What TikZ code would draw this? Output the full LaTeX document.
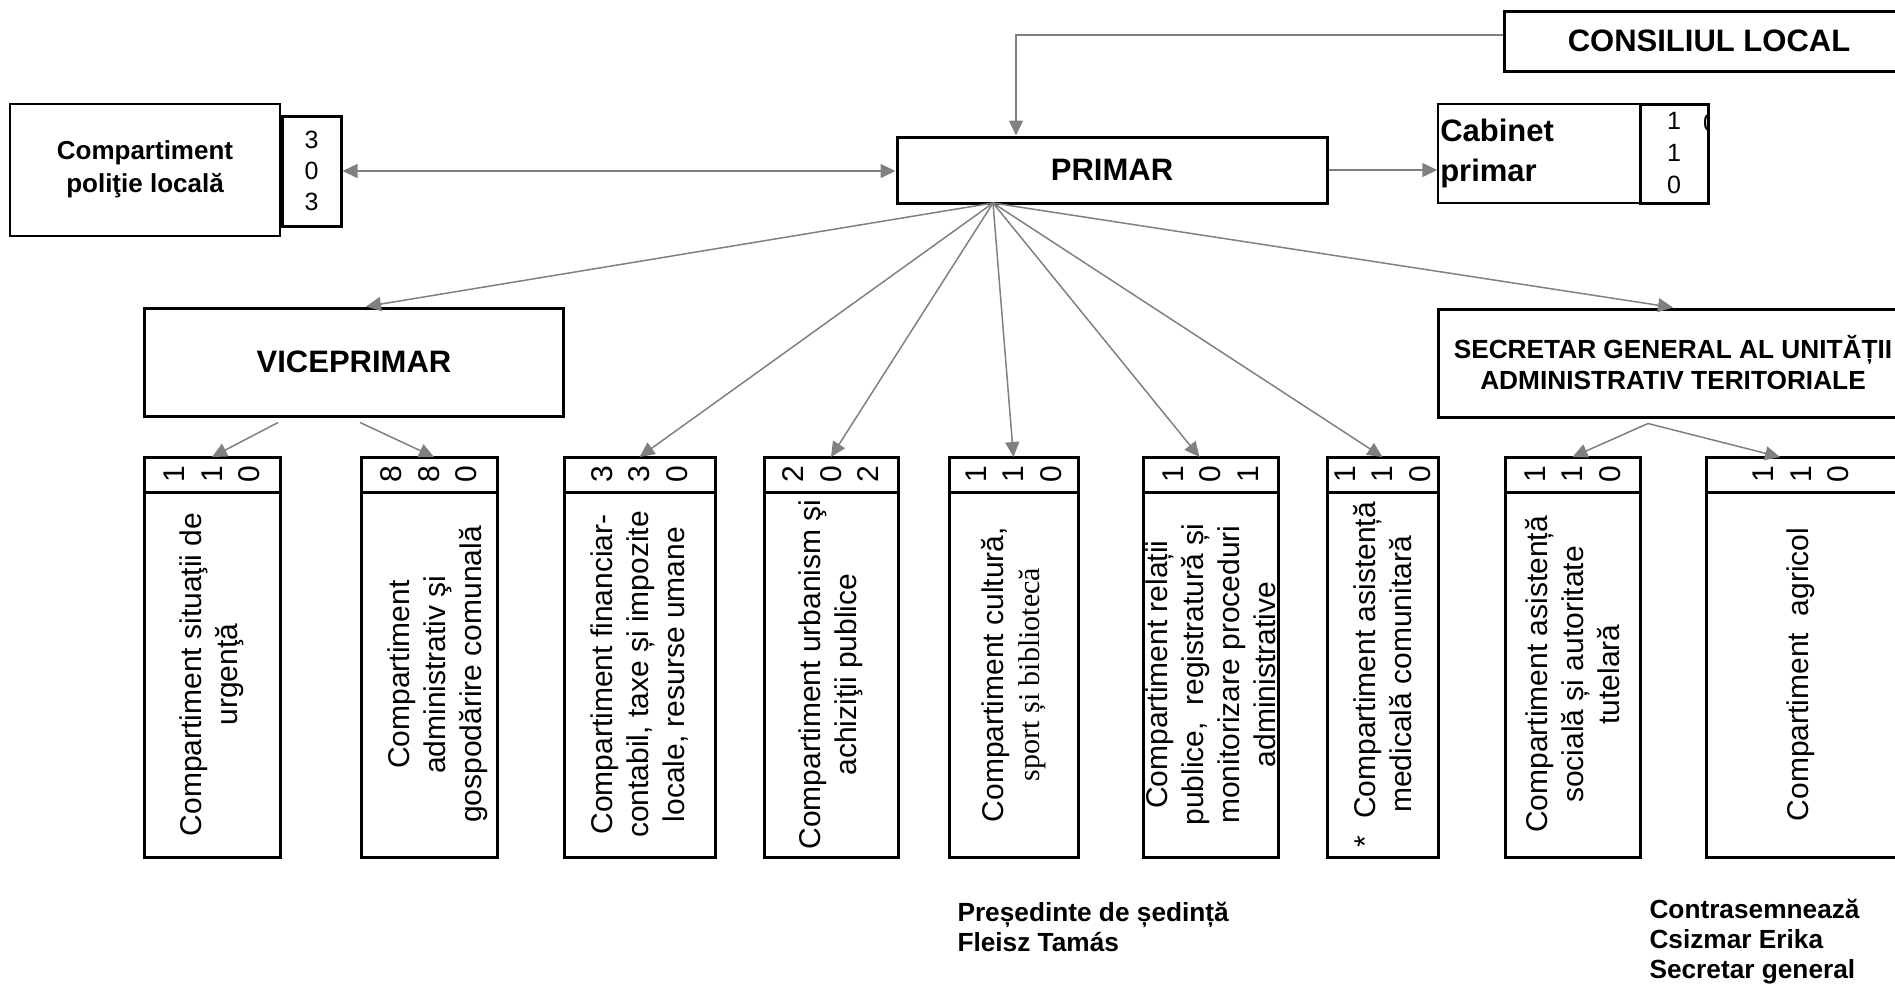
\documentclass[tikz,border=0pt]{standalone}
\usepackage{fontspec}
\setmainfont{Liberation Sans}
\newfontfamily\serifface{Liberation Serif}
\usetikzlibrary{positioning,arrows.meta}

\begin{document}
\begin{tikzpicture} [x=0.4pt, y=-0.4pt,
	grt/.tip={Triangle[length=6pt,width=5.6pt]},
	head/.style={draw, line width=1.2pt, inner sep=0pt, font=\bfseries\fontsize{12.4}{14}\selectfont},
	side/.style={draw, line width=0.6pt, inner sep=0pt, align=center, font=\bfseries\fontsize{10.4}{13.2}\selectfont},
	nrbox/.style={draw, line width=1.2pt, inner sep=0pt, align=center, font=\fontsize{10}{12.4}\selectfont},
	strip/.style={draw, line width=1.2pt, inner sep=0pt, outer sep=0pt, minimum height=14pt},
	colbox/.style={draw, line width=1.2pt, inner sep=0pt, outer sep=0pt, minimum height=146pt},
	digits/.style={rotate=90, align=center, inner sep=0pt, font=\fontsize{12}{15}\selectfont},
	vtext/.style={rotate=90, align=center, inner sep=0pt, font=\fontsize{12}{14.4}\selectfont},
	link/.style={gray, line width=0.6pt, -grt},
	sign/.style={anchor=west, align=left, inner sep=0pt, font=\bfseries\fontsize{10.5}{12}\selectfont}]
	\useasboundingbox (0,0) rectangle (1895,989);
	\clip (0,0) rectangle (1895,989);

	\node [side, minimum width=108pt, minimum height=52.8pt, text depth=3pt] (politie) at (145,170) {Compartiment\\poliţie locală};
	\node [nrbox, minimum width=23.6pt, minimum height=44pt] (nrpol) at (311.5,171) {3\\0\\3};
	\node [head, minimum width=172pt, minimum height=26.4pt] (primar) at (1112,170) {PRIMAR};
	\node [head, minimum width=164pt, minimum height=24pt] (consiliu) at (1709,41) {CONSILIUL LOCAL};
	\node [side, minimum width=80.8pt, minimum height=39.6pt, align=left, text width=79pt, font=\bfseries\fontsize{12.4}{16}\selectfont] (cabinet) at (1539,153.5) {Cabinet\\primar};
	\node [nrbox, minimum width=27.2pt, minimum height=39.6pt, font=\fontsize{10}{12.8}\selectfont] (nrcab) at (1674,153.5) {1\\1\\0};
	\begin{scope}
		\clip (nrcab.south west) rectangle (nrcab.north east);
		\node [font=\fontsize{10}{12}\selectfont] (nrcabx) at (1710,123) {0};
	\end{scope}
	\node [head, minimum width=167.2pt, minimum height=43.2pt] (vice) at (354,362) {VICEPRIMAR};
	\node [head, minimum width=188pt, minimum height=43.2pt, align=center, font=\bfseries\fontsize{10.5}{12.4}\selectfont] (secretar) at (1673,363) {SECRETAR GENERAL AL UNITĂȚII\\ADMINISTRATIV TERITORIALE};

	\node [strip, minimum width=54.4pt] (n1) at (212,474.5) {};
	\node [digits] (d1) at (n1) {1\\1\\0};
	\node [colbox, minimum width=54.4pt, below=0pt of n1] (c1) {};
	\node [vtext] (t1) at (c1) {Compartiment situaţii de\\urgenţă};

	\node [strip, minimum width=54.4pt] (n2) at (429,474.5) {};
	\node [digits] (d2) at (n2) {8\\8\\0};
	\node [colbox, minimum width=54.4pt, below=0pt of n2] (c2) {};
	\node [vtext] (t2) at ([xshift=3.6pt]c2.center) {Compartiment\\administrativ şi\\gospodărire comunală};

	\node [strip, minimum width=60.4pt] (n3) at (639.5,474.5) {};
	\node [digits] (d3) at (n3) {3\\3\\0};
	\node [colbox, minimum width=60.4pt, below=0pt of n3] (c3) {};
	\node [vtext] (t3) at (c3) {Compartiment financiar-\\contabil, taxe și impozite\\locale, resurse umane};

	\node [strip, minimum width=53.6pt] (n4) at (831,474.5) {};
	\node [digits] (d4) at (n4) {2\\0\\2};
	\node [colbox, minimum width=53.6pt, below=0pt of n4] (c4) {};
	\node [vtext] (t4) at (c4) {Compartiment urbanism şi\\achiziţii publice};

	\node [strip, minimum width=51.6pt] (n5) at (1013.5,474.5) {};
	\node [digits] (d5) at (n5) {1\\1\\0};
	\node [colbox, minimum width=51.6pt, below=0pt of n5] (c5) {};
	\node [vtext] (t5) at (c5) {Compartiment cultură,\\{\serifface sport și bibliotecă}};

	\node [strip, minimum width=54pt] (n6) at (1210.5,474.5) {};
	\node [digits] (d6) at (n6) {1\\0\\1};
	\node [colbox, minimum width=54pt, below=0pt of n6] (c6) {};
	\node [vtext] (t6) at (c6) {Compartiment relații\\publice,\ \ registratură și\\monitorizare proceduri\\administrative};

	\node [strip, minimum width=44.4pt] (n7) at (1382.5,474.5) {};
	\node [digits] (d7) at (n7) {1\\1\\0};
	\node [colbox, minimum width=44.4pt, below=0pt of n7] (c7) {};
	\node [vtext] (t7) at (c7) {*\ \ Compartiment asistență\\medicală comunitară};

	\node [strip, minimum width=54pt] (n8) at (1572.5,474.5) {};
	\node [digits] (d8) at (n8) {1\\1\\0};
	\node [colbox, minimum width=54pt, below=0pt of n8] (c8) {};
	\node [vtext] (t8) at (c8) {Compartiment asistență\\socială și autoritate\\tutelară};

	\node [strip, minimum width=76pt] (n9) at (1801,474.5) {};
	\node [digits] (d9) at (n9) {1\\1\\0};
	\node [colbox, minimum width=76pt, below=0pt of n9] (c9) {};
	\node [vtext] (t9) at (c9) {Compartiment\ \ agricol};

	\node [sign] (presedinte) at (957,927) {Președinte de ședință\\Fleisz Tamás};
	\node [sign] (contra) at (1649,942) {Contrasemnează\\Csizmar Erika\\Secretar general};

	\coordinate (pfan) at (993,203);
	\draw [link] ([yshift=2.4pt]consiliu.west) -| ([xshift=-38.4pt]primar.north);
	\draw [link, grt-grt] (nrpol.east) -- (nrpol.east -| primar.west);
	\draw [link] (primar.east) -- (primar.east -| cabinet.west);
	\draw [link] (pfan) -- ([xshift=4.8pt]vice.north);
	\draw [link] (pfan) -- (n3.north);
	\draw [link] (pfan) -- (n4.north);
	\draw [link] (pfan) -- (n5.north);
	\draw [link] (pfan) -- ([xshift=-4.4pt]n6.north);
	\draw [link] (pfan) -- (n7.north);
	\draw [link] (pfan) -- (secretar.north);
	\draw [link] ([xshift=-30.4pt,yshift=-2pt]vice.south) -- (n1.north);
	\draw [link] ([xshift=2.4pt,yshift=-2pt]vice.south) -- ([xshift=2pt]n2.north);
	\draw [link] ([xshift=-10pt,yshift=-2pt]secretar.south) -- (n8.north);
	\draw [link] ([xshift=-10pt,yshift=-2pt]secretar.south) -- ([xshift=-8.4pt]n9.north);
\end{tikzpicture}
\end{document}
